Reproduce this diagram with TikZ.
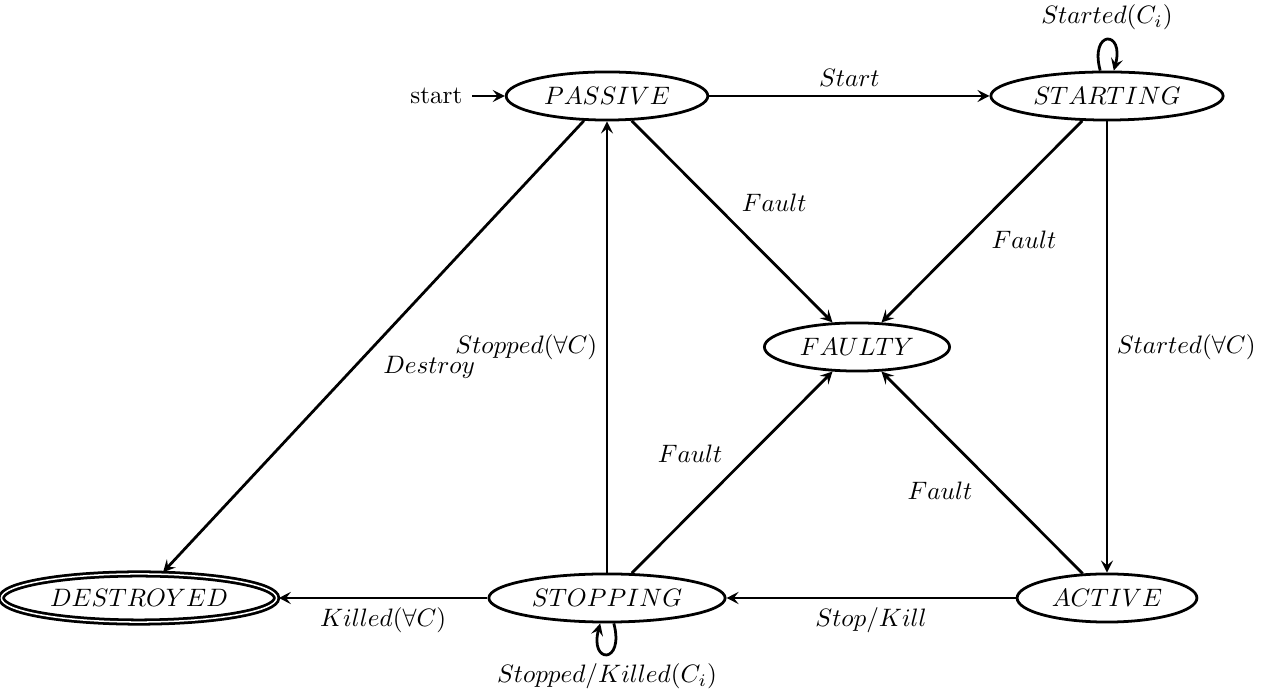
\documentclass[tikz,border=0pt]{standalone}
\usetikzlibrary{automata,arrows.meta,shapes.geometric}
\begin{document}
\begin{tikzpicture}[x=0.39683pt,y=-0.39683pt,>={Stealth[length=4.8pt,width=4.8pt,inset=1.9pt]},auto,
  st/.style={draw,ellipse,line width=1.1pt,inner sep=0.3333em},
  every edge/.style={draw,line width=1.1pt},
  every loop/.style={min distance=5mm,looseness=8}]
\useasboundingbox (0,0) rectangle (1263,694);
\node[st,initial,initial where=left,initial text=start,every initial by arrow/.style={line width=1.1pt}] (P) at (607,96) {$PASSIVE$};
\node[st] (S) at (1107,96) {$STARTING$};
\node[st] (F) at (857,347) {$FAULTY$};
\node[st,accepting] (D) at (139,598) {$DESTROYED$};
\node[st] (O) at (607,598) {$STOPPING$};
\node[st] (A) at (1107,598) {$ACTIVE$};
\path[->]
  (P) edge node {$Start$} (S)
      edge node {$Fault$} (F)
      edge node {$Destroy$} (D)
  (S) edge[loop above] node {$Started(C_i)$} ()
      edge node {$Fault$} (F)
      edge node {$Started(\forall C)$} (A)
  (A) edge node {$Fault$} (F)
      edge node {$Stop/Kill$} (O)
  (O) edge node {$Fault$} (F)
      edge node {$Stopped(\forall C)$} (P)
      edge[loop below] node {$Stopped/Killed(C_i)$} ()
      edge node {$Killed(\forall C)$} (D);
\end{tikzpicture}
\end{document}
